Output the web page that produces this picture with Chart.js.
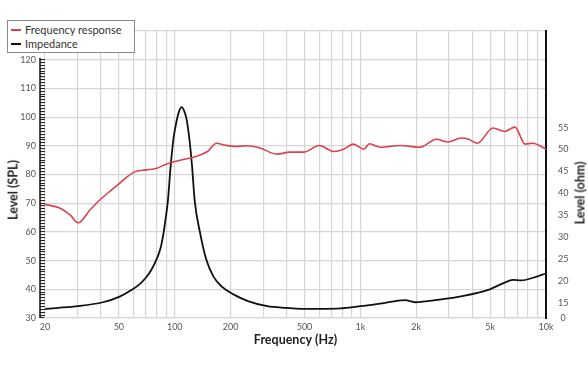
<!DOCTYPE html>
<html>
<head>
<meta charset="utf-8">
<script src="https://cdn.jsdelivr.net/npm/chart.js@4/dist/chart.umd.min.js"></script>
<style>
  body { margin: 0; background: #fff; }
  #wrap { position: relative; width: 588px; height: 372px; font-family: Lato, "Open Sans", sans-serif; }
  #legend { position: absolute; left: 7px; top: 20px; width: 126px; height: 31px; border: 1px solid #8a8a8a; background: #fff; font-size: 11px; color: #333; }
  .item { position: absolute; left: 3px; height: 14px; line-height: 14px; white-space: nowrap; }
  .item i { display: inline-block; width: 10px; height: 2px; vertical-align: middle; margin-right: 4px; margin-top: -2px; }
  .ytitle { position: absolute; font-weight: bold; font-size: 12.5px; color: #222; white-space: nowrap; transform: translate(-50%, -50%) rotate(-90deg); }
</style>
</head>
<body>
<div id="wrap">
  <canvas id="grafico" width="588" height="372"></canvas>
  <div id="legend">
    <div class="item" style="top:2px"><i style="background:#d9434b"></i>Frequency response</div>
    <div class="item" style="top:16px"><i style="background:#111"></i>Impedance</div>
  </div>
  <div class="ytitle" style="left:13px; top:190px">Level (SPL)</div>
  <div class="ytitle" style="left:580px; top:193px">Level (ohm)</div>
</div>
<script>
// respuesta en frecuencia (dB SPL)
const respHz = [20, 24, 27.3, 30.2, 35, 39.6, 45, 50.6, 55, 61.2, 70.2, 80, 90.6, 106, 130, 150, 168, 185, 207, 244, 288, 356, 418, 494, 601, 719, 813, 915, 1045, 1119, 1278, 1442, 1638, 2097, 2570, 2965, 3486, 3833, 4262, 5180, 5990, 6800, 7720, 8490, 10000];
const respDb = [69.6, 68.3, 65.9, 63.2, 67.7, 71.2, 74.3, 77.0, 79.0, 81.0, 81.6, 82.2, 83.7, 84.9, 86.3, 88.0, 90.9, 90.3, 89.8, 90.0, 89.2, 87.1, 87.8, 87.8, 90.1, 88.0, 88.8, 90.6, 88.8, 90.7, 89.5, 89.8, 90.1, 89.5, 92.3, 91.3, 92.7, 92.3, 90.9, 96.2, 95.0, 96.5, 90.6, 90.9, 88.8];

// impedancia (ohm)
const impHz = [20, 30, 41, 50.5, 59, 65, 70.2, 75, 80, 84, 87, 89.5, 91.9, 95, 98.3, 102.6, 105.6, 109, 112.5, 116, 120, 124, 128, 137, 148, 162, 180, 207, 250, 315, 400, 475, 600, 782, 956, 1278, 1740, 1970, 2670, 3550, 4790, 5860, 6650, 7370, 8530, 10000];
const impOhm = [13.6, 14.2, 15.1, 16.4, 18.0, 19.3, 20.8, 22.6, 25.0, 27.6, 30.9, 34.5, 38.4, 46.1, 52.3, 56.8, 58.8, 59.7, 58.8, 56.8, 52.3, 46.1, 38.4, 30.9, 24.8, 20.9, 18.6, 16.9, 15.3, 14.2, 13.8, 13.6, 13.6, 13.7, 14.1, 14.8, 15.6, 15.1, 15.7, 16.5, 17.8, 19.4, 20.2, 20.1, 20.7, 21.7];

// etiquetas de los ejes
const xLabels = {20: '20', 50: '50', 100: '100', 200: '200', 500: '500', 1000: '1k', 2000: '2k', 5000: '5k', 10000: '10k'};
const ohmTicks = [15, 20, 25, 30, 35, 40, 45, 50, 55];
const ohmMin = 11.5;
const ohmMax = 77.1;

const gris = '#d6d6d6';
const fuente = 'Lato, "Open Sans", sans-serif';
Chart.defaults.font.family = fuente;

// linea negra del eje izquierdo (fuera de las marcas)
const ejeIzq = {
  id: 'ejeIzq',
  afterDraw(chart) {
    const s = chart.scales.y;
    const c = chart.ctx;
    c.save();
    c.strokeStyle = '#111';
    c.lineWidth = 1.5;
    c.beginPath();
    c.moveTo(s.right - 5, s.getPixelForValue(120.6));
    c.lineTo(s.right - 5, chart.chartArea.bottom);
    c.stroke();
    c.restore();
  }
};

const cuadro = document.getElementById('grafico').getContext('2d');
const chart = new Chart(cuadro, {
  type: 'line',
  data: {
    datasets: [{
      label: 'Frequency response',
      data: respHz.map((f, i) => ({x: f, y: respDb[i]})),
      borderColor: '#d9434b',
      borderWidth: 1.6,
      pointRadius: 0,
      cubicInterpolationMode: 'monotone',
      yAxisID: 'y'
    }, {
      label: 'Impedance',
      data: impHz.map((f, i) => ({x: f, y: impOhm[i]})),
      borderColor: '#111',
      borderWidth: 1.8,
      pointRadius: 0,
      cubicInterpolationMode: 'monotone',
      yAxisID: 'y1'
    }]
  },
  options: {
    responsive: false,
    animation: false,
    devicePixelRatio: 1,
    layout: { padding: { top: 31, left: 0, right: 0, bottom: 0 } },
    plugins: { legend: { display: false }, tooltip: { enabled: false } },
    scales: {
      x: {
        type: 'logarithmic',
        min: 20,
        max: 10000,
        afterBuildTicks: (s) => {
          const t = [];
          [10, 100, 1000].forEach(d => {
            for (let k = 1; k <= 9; k++) {
              const v = k * d;
              if (v >= 20) t.push({value: v});
            }
          });
          t.push({value: 10000});
          s.ticks = t;
        },
        afterFit: (s) => { s.height = 54; },
        grid: { color: gris, lineWidth: 1.2, drawTicks: false },
        border: { color: gris, width: 1.2 },
        ticks: {
          autoSkip: false,
          maxRotation: 0,
          padding: 4,
          color: '#555',
          font: { size: 9 },
          callback: (v) => xLabels[v] || ''
        },
        title: {
          display: true,
          text: 'Frequency (Hz)',
          color: '#222',
          font: { size: 12.5, weight: 'bold' },
          padding: { top: 0, bottom: 25 }
        }
      },
      y: {
        position: 'left',
        min: 30,
        max: 130,
        afterBuildTicks: (s) => {
          const t = [];
          for (let v = 30; v <= 130; v++) t.push({value: v});
          s.ticks = t;
        },
        afterFit: (s) => { s.width = 45; },
        grid: {
          color: (c) => c.tick && c.tick.value % 10 === 0 ? gris : 'rgba(0,0,0,0)',
          tickColor: (c) => c.tick && c.tick.value <= 120 ? '#111' : 'rgba(0,0,0,0)',
          lineWidth: 1.2,
          tickWidth: 1,
          tickLength: 5
        },
        border: { display: false },
        ticks: {
          autoSkip: false,
          padding: 4,
          color: '#555',
          font: { size: 9 },
          callback: (v) => (v % 10 === 0 && v <= 120) ? String(v) : ''
        }
      },
      y1: {
        position: 'right',
        min: ohmMin,
        max: ohmMax,
        afterBuildTicks: (s) => {
          s.ticks = [{value: ohmMin}].concat(ohmTicks.map(v => ({value: v})));
        },
        afterFit: (s) => { s.width = 42; },
        grid: { drawOnChartArea: false, drawTicks: false },
        border: { color: '#111', width: 2 },
        ticks: {
          autoSkip: false,
          padding: 12,
          crossAlign: 'center',
          color: '#555',
          font: { size: 9 },
          callback: (v) => v === ohmMin ? '0' : String(v)
        }
      }
    }
  },
  plugins: [ejeIzq]
});
</script>
</body>
</html>
